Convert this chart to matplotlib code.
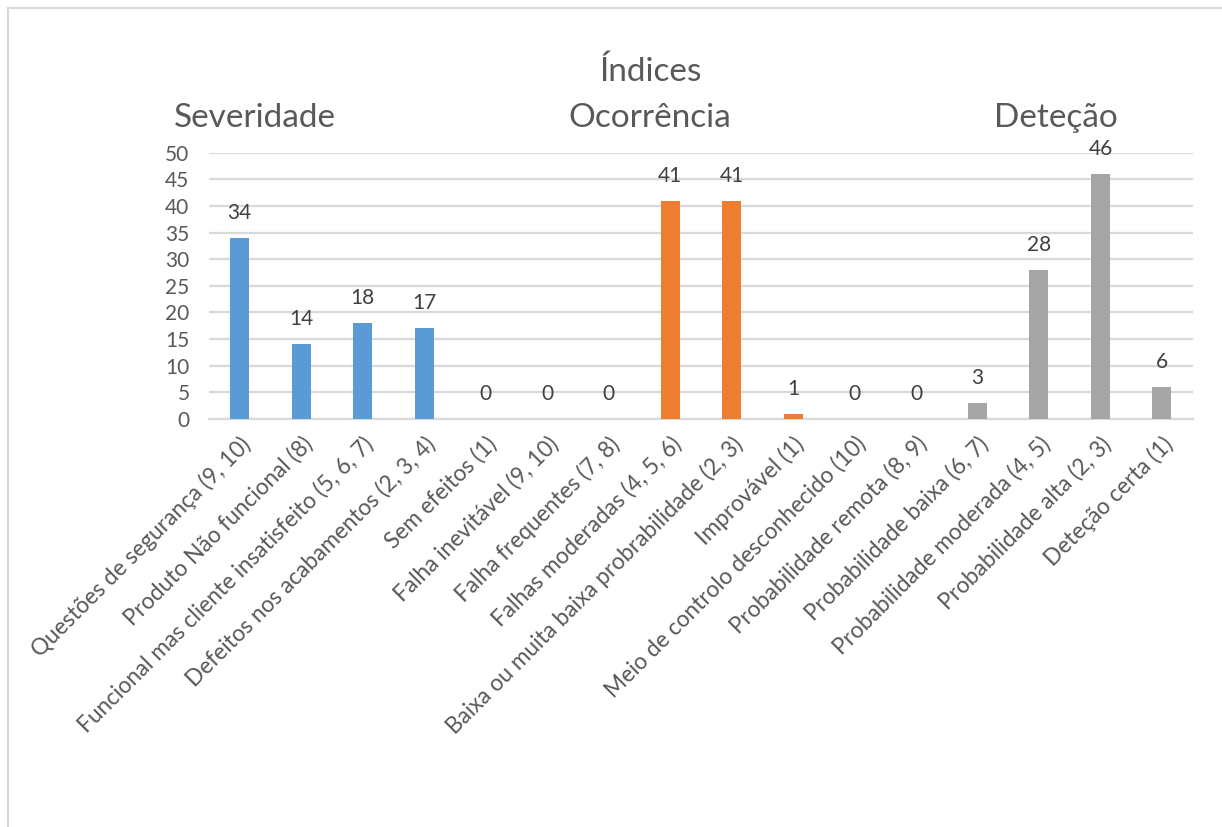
import matplotlib.pyplot as plt
from matplotlib.lines import Line2D

plt.rcParams['font.family'] = ['Lato', 'DejaVu Sans']

categorias = ["Questões de segurança (9, 10)", "Produto Não funcional (8)",
              "Funcional mas cliente insatisfeito (5, 6, 7)",
              "Defeitos nos acabamentos (2, 3, 4)", "Sem efeitos (1)",
              "Falha inevitável (9, 10)", "Falha frequentes (7, 8)",
              "Falhas moderadas (4, 5, 6)",
              "Baixa ou muita baixa probrabilidade (2, 3)", "Improvável (1)",
              "Meio de controlo desconhecido (10)", "Probabilidade remota (8, 9)",
              "Probabilidade baixa (6, 7)", "Probabilidade moderada (4, 5)",
              "Probabilidade alta (2, 3)", "Deteção certa (1)"]
valores = [34, 14, 18, 17, 0, 0, 0, 41, 41, 1, 0, 0, 3, 28, 46, 6]
grupos = ["Severidade", "Ocorrência", "Deteção"]
tamanho_grupo = [4, 6, 6]
cores_grupo = ["#5B9BD5", "#ED7D31", "#A5A5A5"]

cores = []
for cor, n in zip(cores_grupo, tamanho_grupo):
    cores += [cor] * n

fig = plt.figure(figsize=(12.22, 8.27), dpi=100)
ax = fig.add_axes([0.171, 0.4934, 0.805, 0.322])

x = range(len(categorias))
barras = ax.bar(x, valores, width=0.31, color=cores, zorder=3)
for b, v in zip(barras, valores):
    ax.annotate(str(v), (b.get_x() + b.get_width() / 2, v),
                xytext=(0, 25), textcoords="offset pixels",
                ha="center", va="center", fontsize=15, color="#404040")

ax.set_xlim(-0.5, len(categorias) - 0.5)
ax.set_ylim(0, 50)
ax.set_yticks(range(0, 51, 5))
ax.yaxis.grid(True, color="#D9D9D9", linewidth=1.6, zorder=0)
ax.set_xticks(list(x))
ax.set_xticklabels(categorias, rotation=45, ha="right", rotation_mode="anchor",
                   fontsize=16.3, color="#595959")
ax.tick_params(axis="y", labelsize=15, labelcolor="#595959", length=0, pad=14)
ax.tick_params(axis="x", length=0, pad=10)
for s in ["top", "right", "left"]:
    ax.spines[s].set_visible(False)
ax.spines["bottom"].set_color("#D9D9D9")
ax.spines["bottom"].set_linewidth(1.6)

# titulo e nomes dos grupos
fig.text(0.533, 1 - 72 / 827, "Índices", ha="center", va="center",
         fontsize=24, color="#595959")
for nome, xc in zip(grupos, [255, 650, 1056]):
    fig.text(xc / 1222, 1 - 118 / 827, nome, ha="center", va="center",
             fontsize=24, color="#595959")

# moldura
fig.add_artist(Line2D([8 / 1222, 8 / 1222], [0, 1 - 8 / 827],
                      color="#D9D9D9", linewidth=1.5))
fig.add_artist(Line2D([8 / 1222, 1], [1 - 8 / 827, 1 - 8 / 827],
                      color="#D9D9D9", linewidth=1.5))

fig.savefig("out.png", dpi=100)
